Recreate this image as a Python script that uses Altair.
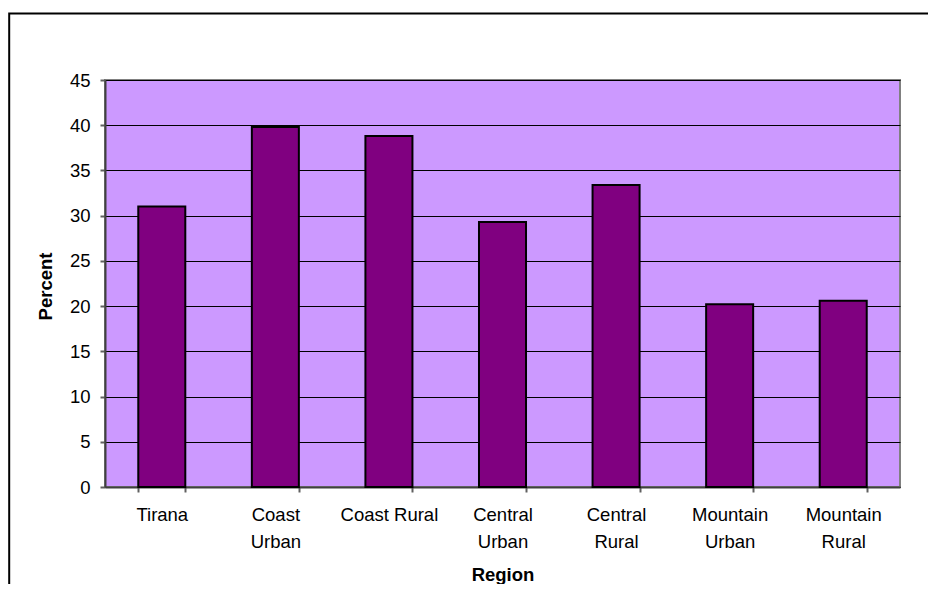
import altair as alt
import pandas as pd

regions = ["Tirana", "Coast Urban", "Coast Rural", "Central Urban",
           "Central Rural", "Mountain Urban", "Mountain Rural"]
percent = [31.0, 39.8, 38.8, 29.3, 33.4, 20.2, 20.6]
y_ticks = [0, 5, 10, 15, 20, 25, 30, 35, 40, 45]

df = pd.DataFrame({"Region": regions, "Percent": percent})

FONT = "Liberation Sans"
FS = 18.5

bars = alt.Chart(df).mark_bar(
    color="#800080", stroke="#000000", strokeWidth=2
).encode(
    x=alt.X(
        "Region:N", sort=None,
        scale=alt.Scale(paddingInner=0.586, paddingOuter=0.293),
        axis=alt.Axis(
            title="Region", labelAngle=0,
            labelExpr="datum.label == 'Coast Rural' ? datum.label : split(datum.label, ' ')",
            labelFont=FONT, labelFontSize=FS, labelColor="#000000",
            labelBaseline="alphabetic", labelPadding=28, labelLineHeight=27.5,
            tickBand="extent", ticks=True, tickSize=5, tickColor="#606060", tickWidth=2,
            domainColor="#404040", domainWidth=2, grid=False,
            titleFont=FONT, titleFontSize=FS, titleFontWeight="bold", titleColor="#000000",
            titleBaseline="alphabetic", titleY=93,
        ),
    ),
    y=alt.Y(
        "Percent:Q",
        scale=alt.Scale(domain=[0, 45], nice=False),
        axis=alt.Axis(
            title="Percent", values=y_ticks,
            labelFont=FONT, labelFontSize=FS, labelColor="#000000", labelPadding=10,
            tickSize=5, tickColor="#606060", tickWidth=2,
            domainColor="#404040", domainWidth=2,
            grid=True, gridColor="#000000", gridWidth=1,
            titleFont=FONT, titleFontSize=FS, titleFontWeight="bold", titleColor="#000000",
            titleBaseline="alphabetic", titleX=-54, titleY=206, titleAngle=270,
        ),
    ),
)

frame = alt.Chart(alt.Data(values=[{"k": 1}])).mark_rect(
    filled=False, stroke="#000000", strokeWidth=2
).encode(
    x=alt.value(-95.8), x2=alt.value(950), y=alt.value(-66.5), y2=alt.value(700)
)

chart = alt.layer(bars, frame).properties(
    width=795, height=407, autosize="none", background="#ffffff",
    padding={"left": 97, "top": 72, "right": 28, "bottom": 97},
).configure_view(
    fill="#CC99FF", stroke="#808080", strokeWidth=2
)

chart.save("out.html", embed_options={"renderer": "svg", "actions": False})
